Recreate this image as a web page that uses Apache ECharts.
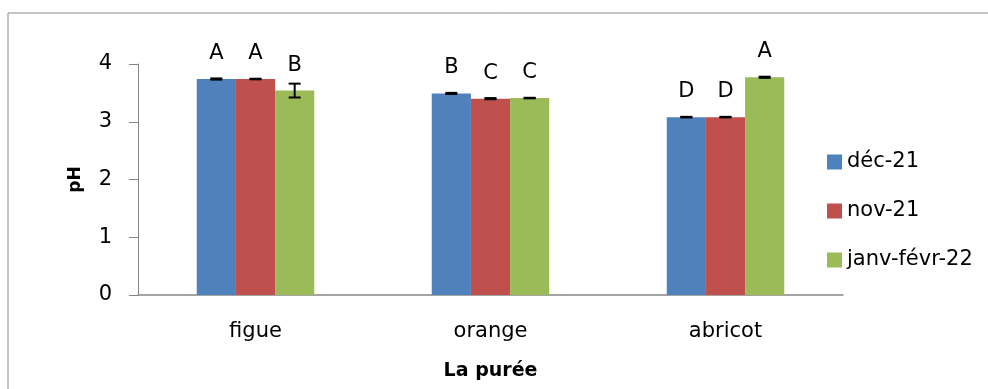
<!DOCTYPE html>
<html><head><meta charset="utf-8">
<script src="https://cdn.jsdelivr.net/npm/echarts@6/dist/echarts.min.js"></script>
<style>html,body{margin:0;padding:0;background:#fff}#c{width:988px;height:389px}</style>
</head><body><div id="c"></div>
<script>
const categories = ['figue', 'orange', 'abricot'];
const seriesNames = ['déc-21', 'nov-21', 'janv-févr-22'];
const decValues = [3.74, 3.49, 3.08];
const novValues = [3.74, 3.40, 3.08];
const janvValues = [3.54, 3.41, 3.77];
const decErr = [0.01, 0.01, 0.005];
const novErr = [0.005, 0.01, 0.005];
const janvErr = [0.12, 0.005, 0.01];
const decLetters = ['A', 'B', 'D'];
const novLetters = ['A', 'C', 'D'];
const janvLetters = ['B', 'C', 'A'];
const yTicks = [0, 1, 2, 3, 4];

const colors = ['#4F81BD', '#C0504D', '#9BBB59'];
const values = [decValues, novValues, janvValues];
const errs = [decErr, novErr, janvErr];
const letters = [decLetters, novLetters, janvLetters];
const FONT = 'DejaVu Sans';

const chart = echarts.init(document.getElementById('c'), null, {renderer: 'canvas'});

const barSeries = values.map((vals, si) => ({
  name: seriesNames[si],
  type: 'bar',
  data: vals,
  barGap: '0%',
  barCategoryGap: '50%',
  itemStyle: {color: colors[si]},
  label: {
    show: true, position: 'top', distance: 15,
    formatter: p => letters[si][p.dataIndex],
    fontFamily: FONT, fontSize: 21, color: '#000'
  },
  z: 2
}));

const errData = [];
values.forEach((vals, si) => vals.forEach((v, ci) => errData.push([ci, v, errs[si][ci], si])));

const errSeries = {
  type: 'custom',
  name: 'err',
  data: errData,
  encode: {x: 0, y: 1},
  z: 5,
  silent: true,
  renderItem: function (params, api) {
    const ci = api.value(0), v = api.value(1), e = api.value(2), si = api.value(3);
    const catW = api.size([1, 0])[0];
    const bw = catW * 0.5 / 3;
    const c = api.coord([ci, v]);
    const x = c[0] + (si - 1) * bw;
    const yHi = api.coord([ci, v + e])[1];
    const yLo = api.coord([ci, v - e])[1];
    const hw = 6;
    const st = {stroke: '#000', lineWidth: 2};
    return {
      type: 'group',
      children: [
        {type: 'line', shape: {x1: x, y1: yHi, x2: x, y2: yLo}, style: st},
        {type: 'line', shape: {x1: x - hw, y1: yHi, x2: x + hw, y2: yHi}, style: st},
        {type: 'line', shape: {x1: x - hw, y1: yLo, x2: x + hw, y2: yLo}, style: st}
      ]
    };
  }
};

chart.setOption({
  animation: false,
  backgroundColor: '#fff',
  textStyle: {fontFamily: FONT},
  graphic: [{
    type: 'rect', shape: {x: 8, y: 13, width: 1000, height: 400},
    style: {fill: 'none', stroke: '#8a8a8a', lineWidth: 1}, z: -10
  }],
  grid: {left: 138, right: 145, top: 64, bottom: 94},
  legend: {
    orient: 'vertical', left: 822, top: 145,
    data: seriesNames,
    itemWidth: 15, itemHeight: 15, itemGap: 25,
    icon: 'rect',
    textStyle: {fontFamily: FONT, fontSize: 21, color: '#000', lineHeight: 24}
  },
  xAxis: {
    type: 'category', data: categories,
    name: 'La purée', nameLocation: 'middle', nameGap: 67,
    nameTextStyle: {fontFamily: FONT, fontSize: 19, fontWeight: 'bold', color: '#000'},
    axisLine: {lineStyle: {color: '#868686', width: 1.5}},
    axisTick: {show: false},
    axisLabel: {fontFamily: FONT, fontSize: 21, color: '#000', margin: 26}
  },
  yAxis: {
    type: 'value', min: 0, max: 4, interval: 1,
    name: 'pH', nameLocation: 'middle', nameGap: 54, nameRotate: 90,
    nameTextStyle: {fontFamily: FONT, fontSize: 17, fontWeight: 'bold', color: '#000'},
    axisLine: {show: true, lineStyle: {color: '#868686', width: 1}},
    axisTick: {show: true, length: 9, lineStyle: {color: '#868686'}},
    splitLine: {show: false},
    axisLabel: {fontFamily: FONT, fontSize: 21, color: '#000', margin: 26,
      formatter: v => yTicks.includes(v) ? String(v) : ''}
  },
  series: [...barSeries, errSeries]
});
</script>
</body></html>
